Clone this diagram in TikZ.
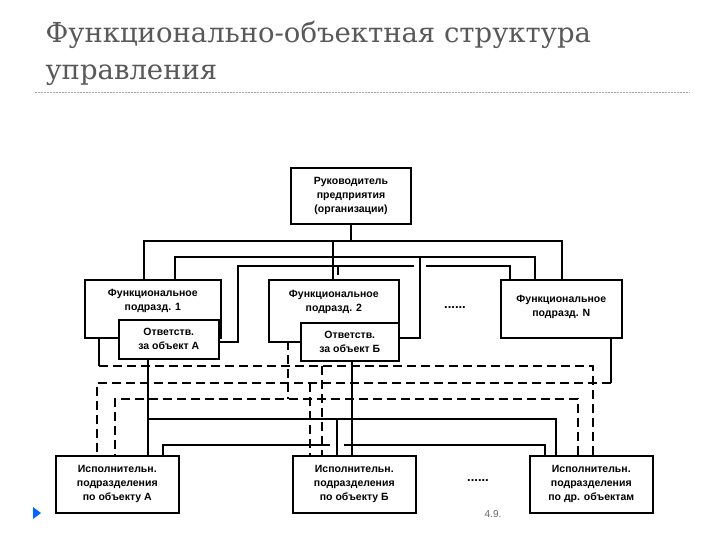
\documentclass[tikz,border=0pt]{standalone}
\usepackage{fontspec}
\setmainfont{Liberation Sans}
\newfontfamily\titlefont{DejaVu Serif}
\begin{document}
\begin{tikzpicture}[x=1pt,y=-1pt,
  box/.style={draw,line width=1.6pt,fill=white,align=center,inner sep=0pt,font=\fontsize{10.5}{14}\selectfont\bfseries},
  ln/.style={line width=1.1pt},
  dl/.style={line width=1.1pt,dash pattern=on 9pt off 5pt}]
\useasboundingbox (0,0) rectangle (720,540);
\fill[white] (0,0) rectangle (720,540);
\node[anchor=base west,text=black!65,font=\titlefont\fontsize{27.5}{30}\selectfont] (t1) at (42,43) {Функционально-объектная структура};
\node[anchor=base west,text=black!65,font=\titlefont\fontsize{27.5}{30}\selectfont] (t2) at (42,80) {управления};
\draw[black!35,dash pattern=on 2pt off 1pt] (35,92) coordinate (s1) -- (690,92) coordinate (s2);
\fill[blue!60!cyan] (33,507) coordinate (tr) -- (41,513) -- (33,519) -- cycle;

% upper buses
\draw[ln] (351,224) coordinate (c0) -- (351,241);
\draw[ln] (144,280) -- (144,241) -- (562,241) -- (562,280);
\draw[ln] (333,241) -- (333,280);
\draw[ln] (175,280) -- (175,257) -- (535,257) -- (535,280);
\draw[ln] (420,257) -- (420,338) -- (398,338);
\draw[ln] (219,342) -- (238,342) -- (238,266) -- (414,266);
\draw[ln] (426,266) -- (510,266) -- (510,280);
\draw[dl] (338,266) -- (338,280);

% lower solid
\draw[ln] (148,358) -- (148,455);
\draw[ln] (148,419) -- (556,419) -- (556,455);
\draw[ln] (337,419) -- (337,455);
\draw[ln] (352,360) -- (352,455);
\draw[ln] (163,455) -- (163,445) -- (330,445);
\draw[ln] (344,445) -- (545,445) -- (545,455);

% lower dashed
\draw[ln] (99,337) -- (99,366);
\draw[dl] (99,366) -- (593,366) -- (593,455);
\draw[dl] (322,366) -- (322,455);
\draw[ln] (611,337) -- (611,383);
\draw[dl] (611,383) -- (97,383) -- (97,455);
\draw[dl] (310,383) -- (310,455);
\draw[dl] (288,341) -- (288,399);
\draw[dl] (578,455) -- (578,399) -- (115,399) -- (115,455);

\node[box,minimum width=120pt,minimum height=56pt] (top) at (351,196) {Руководитель\\предприятия\\(организации)};
\node[box,minimum width=136pt,minimum height=58pt,anchor=north west,text depth=18pt] (f1) at (84,279) {Функциональное\\подразд. 1};
\node[box,minimum width=130pt,minimum height=62pt,anchor=north west,text depth=20pt] (f2) at (268,279) {Функциональное\\подразд. 2};
\node[box,minimum width=121pt,minimum height=58pt,anchor=north west,text depth=6pt] (fn) at (500,279) {Функциональное\\подразд. N};
\node[box,minimum width=100pt,minimum height=39pt,anchor=north west] (oa) at (118,319) {Ответств.\\за объект А};
\node[box,minimum width=98pt,minimum height=38pt,anchor=north west] (ob) at (300,322) {Ответств.\\за объект Б};
\node[box,minimum width=123pt,minimum height=57pt,anchor=north west] (ea) at (55,455) {Исполнительн.\\подразделения\\по объекту А};
\node[box,minimum width=123pt,minimum height=57pt,anchor=north west] (eb) at (292,455) {Исполнительн.\\подразделения\\по объекту Б};
\node[box,minimum width=123pt,minimum height=57pt,anchor=north west] (ec) at (529,455) {Исполнительн.\\подразделения\\по др. объектам};
\node[font=\fontsize{13}{14}\selectfont\bfseries] (d1) at (455,308) {......};
\node[font=\fontsize{13}{14}\selectfont\bfseries] (d2) at (478,481) {......};
\node[text=black!60,font=\fontsize{10}{12}\selectfont] (n) at (493,514) {4.9.};
\end{tikzpicture}
\end{document}
